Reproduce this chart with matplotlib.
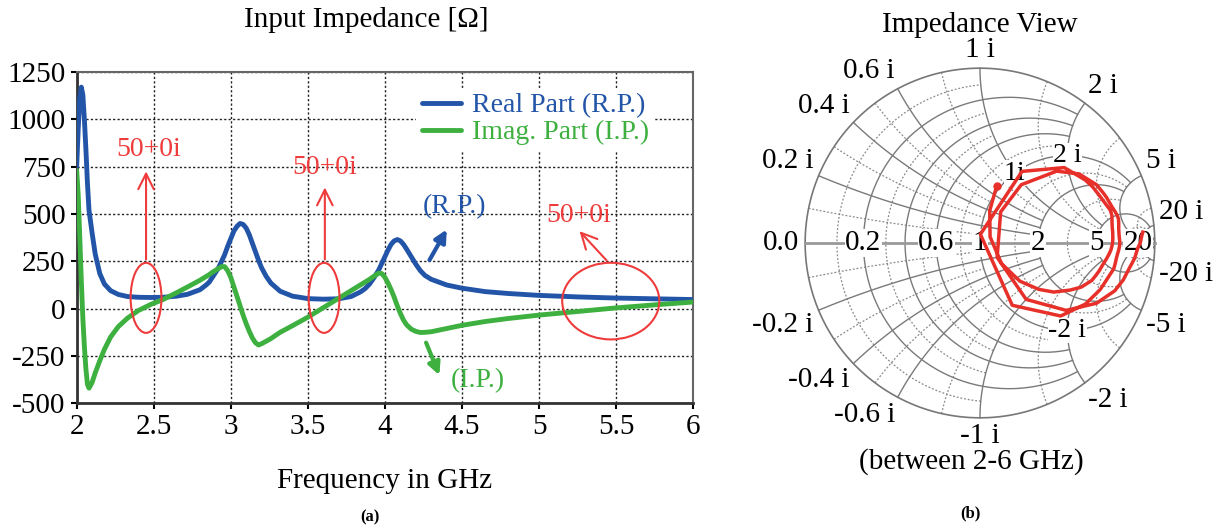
import numpy as np
import matplotlib as mpl
from matplotlib import pyplot as plt
from matplotlib.patches import Ellipse
from matplotlib.ticker import FormatStrFormatter

mpl.rcParams['font.family'] = ['Liberation Serif', 'DejaVu Serif']
mpl.rcParams['font.size'] = 20
mpl.rcParams['axes.unicode_minus'] = False

# DATA
freq = [2.00, 2.01, 2.02, 2.03, 2.04, 2.05, 2.06, 2.07, 2.08, 2.10, 2.12, 2.15,
        2.18, 2.22, 2.27, 2.33, 2.40, 2.48, 2.56, 2.65, 2.72, 2.80, 2.84, 2.86,
        2.88, 2.90, 2.92, 2.94, 2.96, 2.98, 3.00, 3.02, 3.04, 3.06, 3.08, 3.10,
        3.12, 3.14, 3.16, 3.18, 3.20, 3.23, 3.26, 3.32, 3.40, 3.50, 3.60, 3.70,
        3.78, 3.84, 3.87, 3.90, 3.93, 3.96, 3.98, 4.00, 4.02, 4.04, 4.06, 4.08,
        4.10, 4.12, 4.14, 4.17, 4.20, 4.23, 4.26, 4.30, 4.40, 4.50, 4.65, 4.80,
        5.00, 5.25, 5.50, 5.75, 6.00]
real_part = [750, 950, 1110, 1170, 1130, 1000, 840, 660, 520, 400, 290, 185,
             130, 95, 75, 64, 60, 59, 60, 66, 76, 100, 125, 140,
             165, 190, 215, 250, 285, 330, 370, 410, 435, 450, 445, 425,
             390, 345, 300, 255, 215, 170, 135, 92, 66, 53, 50, 52,
             64, 88, 105, 130, 165, 205, 240, 275, 310, 340, 358, 365,
             358, 340, 315, 275, 235, 200, 175, 155, 125, 108, 90, 80,
             70, 62, 56, 52, 48]
imag_part = [730, 600, 380, 150, -50, -200, -320, -400, -420, -390, -340, -275,
             -215, -150, -95, -50, -10, 22, 48, 85, 115, 150, 170, 180,
             192, 202, 212, 222, 222, 200, 165, 115, 65, 15, -35, -80,
             -120, -155, -180, -192, -185, -172, -158, -125, -90, -45, 5, 55,
             95, 125, 140, 155, 172, 188, 185, 165, 135, 100, 60, 15,
             -25, -60, -85, -108, -120, -126, -125, -122, -105, -88, -68, -52,
             -34, -15, 4, 20, 35]
z0 = 50.0

x_ticks = [2, 2.5, 3, 3.5, 4, 4.5, 5, 5.5, 6]
y_ticks = [-500, -250, 0, 250, 500, 750, 1000, 1250]

# smith chart grid values
major_vals = [0.2, 0.4, 0.6, 1, 2, 5, 20]
major_lim = [2, 2, 2, 5, 5, 20, np.inf]
minor_vals = [0.1, 0.3, 0.5, 0.8, 1.5, 3, 10]
minor_lim = [1, 1, 1, 2, 5, 5, 20]
real_labels = [0.2, 0.6, 1, 2, 5, 20]
rim_labels = [0, 0.2, 0.4, 0.6, 1, 2, 5, 20, -0.2, -0.4, -0.6, -1, -2, -5, -20]
inner_labels = [1, 2, -2]

blue = '#2255A8'
green = '#3DB040'
red = '#EE3B3B'

fig = plt.figure(figsize=(12.19, 5.29), dpi=100)

# ---------------- (a) input impedance ----------------
ax = fig.add_axes([0.0629, 0.2376, 0.5058, 0.6263])
ax.plot(freq, real_part, color=blue, lw=3.5, label='Real Part (R.P.)', zorder=3,
        solid_joinstyle='round', solid_capstyle='round')
ax.plot(freq, imag_part, color=green, lw=3.5, label='Imag. Part (I.P.)', zorder=3,
        solid_joinstyle='round', solid_capstyle='round')
ax.set_xlim(2, 6)
ax.set_ylim(-500, 1250)
ax.set_xticks(x_ticks)
ax.set_yticks(y_ticks)
ax.xaxis.set_major_formatter(FormatStrFormatter('%g'))
ax.grid(True, color='#222222', linestyle=(0, (1.6, 1.6)), linewidth=1.0)
ax.tick_params(direction='out', length=4, width=1.5, labelsize=21, pad=4)
for s in ['left', 'bottom']:
    ax.spines[s].set_color('#333333')
    ax.spines[s].set_linewidth(2)
for s in ['top', 'right']:
    ax.spines[s].set_color('#666666')
    ax.spines[s].set_linewidth(1.5)
ax.set_xlabel('Frequency in GHz', fontsize=21, labelpad=20)
ax.text(0.469, 1.157, 'Input Impedance [\u03A9]', transform=ax.transAxes,
        ha='center', va='center', fontsize=21)

leg = ax.legend(loc='upper right', bbox_to_anchor=(0.96, 0.995), fontsize=20,
                handlelength=1.4, handletextpad=0.4, labelspacing=0.05,
                borderpad=0.2, framealpha=1, edgecolor='none', fancybox=False,
                labelcolor='linecolor')
leg.set_zorder(5)

# red 50+0i marks
for (cx, cy, w, h) in [(2.45, 57, 0.2, 370), (3.605, 57, 0.2, 370), (5.465, 40, 0.63, 405)]:
    ax.add_patch(Ellipse((cx, cy), w, h, fill=False, edgecolor=red, lw=1.5, zorder=4))
red_arrow = dict(arrowstyle='->', color=red, lw=1.5, mutation_scale=28)
ax.annotate('', xy=(2.45, 740), xytext=(2.45, 245), arrowprops=red_arrow, zorder=4)
ax.text(2.47, 840, '50+0i', color=red, ha='center', va='center', fontsize=20)
ax.annotate('', xy=(3.61, 655), xytext=(3.61, 245), arrowprops=red_arrow, zorder=4)
ax.text(3.61, 745, '50+0i', color=red, ha='center', va='center', fontsize=20)
ax.annotate('', xy=(5.25, 420), xytext=(5.45, 244), arrowprops=red_arrow, zorder=4)
ax.text(5.26, 490, '50+0i', color=red, ha='center', va='center', fontsize=20)

ax.annotate('', xy=(4.41, 431), xytext=(4.28, 244),
            arrowprops=dict(arrowstyle='-|>', color=blue, lw=3, mutation_scale=18))
ax.text(4.45, 538, '(R.P.)', color=blue, ha='center', va='center', fontsize=20)
ax.annotate('', xy=(4.36, -365), xytext=(4.26, -166),
            arrowprops=dict(arrowstyle='-|>', color=green, lw=3, mutation_scale=18))
ax.text(4.6, -378, '(I.P.)', color=green, ha='center', va='center', fontsize=20)

fig.text(370 / 1219, 1 - 517 / 529, '(a)', ha='center', va='center',
         fontsize=12, fontweight='bold')

# ---------------- (b) smith chart ----------------
sm = fig.add_axes([0.6103, 0.0945, 0.3872, 0.8923])
sm.set_xlim(-1.35, 1.35)
sm.set_ylim(-1.35, 1.35)
sm.axis('off')


def gamma(z):
    return (z - 1) / (z + 1)


def r_circle(r, xmax):
    t = np.linspace(-np.arctan(xmax), np.arctan(xmax), 400)
    g = gamma(r + 1j * np.tan(np.clip(t, -1.5707, 1.5707)))
    return g.real, g.imag


def x_arc(x, rmax):
    t = np.linspace(0, np.arctan(rmax), 400)
    g = gamma(np.tan(np.clip(t, 0, 1.5707)) + 1j * x)
    return g.real, g.imag


for vals, lims, ls, col, lw in [(minor_vals, minor_lim, (0, (1.5, 1.5)), '#8a8a8a', 0.9),
                                (major_vals, major_lim, '-', '#7a7a7a', 1.0)]:
    for v, lim in zip(vals, lims):
        gx, gy = r_circle(v, lim)
        sm.plot(gx, gy, color=col, ls=ls, lw=lw)
        for sgn in [1, -1]:
            gx, gy = x_arc(sgn * v, lim)
            sm.plot(gx, gy, color=col, ls=ls, lw=lw)

th = np.linspace(0, 2 * np.pi, 600)
sm.plot(np.cos(th), np.sin(th), color='#777777', lw=1.2)
sm.plot([-1, 1], [0, 0], color='#9a9a9a', lw=2)

for r in real_labels:
    sm.text(gamma(r), 0, '%g' % r, ha='center', va='center', fontsize=21,
            bbox=dict(facecolor='white', edgecolor='none', pad=0.5))

for x in rim_labels:
    g = gamma(1j * x) if x != 0 else -1 + 0j
    c, s = g.real, g.imag
    ha = 'center' if abs(c) < 0.2 else ('left' if c > 0 else 'right')
    va = 'center' if abs(s) < 0.05 else ('bottom' if s > 0 else 'top')
    txt = '0.0' if x == 0 else '%g i' % x
    sm.annotate(txt, xy=(c, s), xytext=(4 * c, 4 * s), textcoords='offset points',
                ha=ha, va=va, fontsize=21)

for x in inner_labels:
    g = gamma(1 + 1j * x)
    txt = '1i' if x == 1 else '%g i' % x
    sm.text(g.real, g.imag, txt, ha='center', va='center', fontsize=20,
            bbox=dict(facecolor='white', edgecolor='none', pad=0.2))

zin = (np.array(real_part) + 1j * np.array(imag_part)) / z0
gin = gamma(zin)
sm.plot(gin.real, gin.imag, color='#E8302A', lw=2.5, zorder=5,
        solid_joinstyle='round')
sm.plot(gin.real[-1], gin.imag[-1], 'o', color='#E8302A', ms=5, zorder=5)

sm.text(0, 1.246, 'Impedance View', ha='center', va='center', fontsize=21)
sm.text(-0.05, -1.25, '(between 2-6 GHz)', ha='center', va='center', fontsize=21)
fig.text(970 / 1219, 1 - 513 / 529, '(b)', ha='center', va='center',
         fontsize=12, fontweight='bold')

plt.savefig('out.png', dpi=100)
plt.close('all')
